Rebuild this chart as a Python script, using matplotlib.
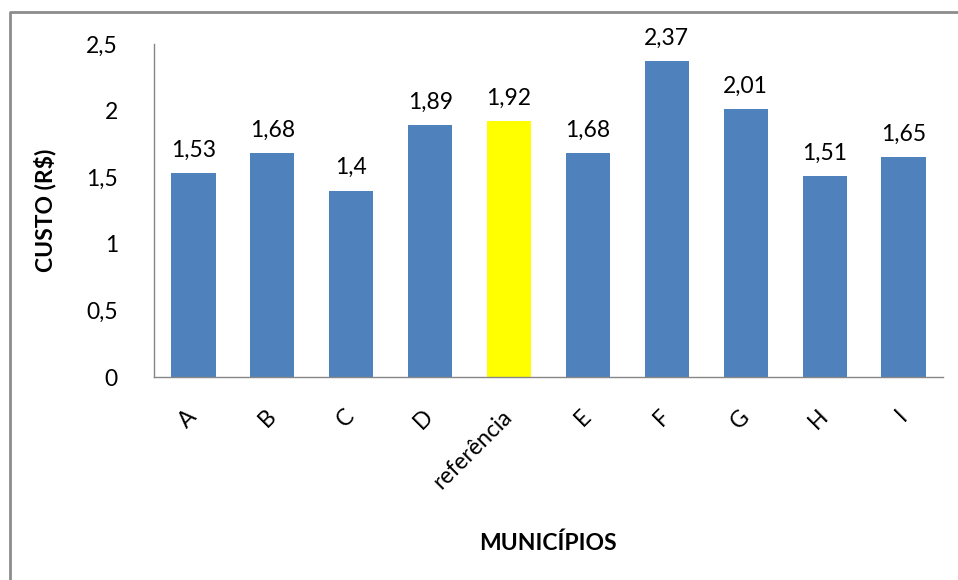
import matplotlib
matplotlib.use("Agg")
import matplotlib.pyplot as plt
from matplotlib.lines import Line2D

categories = ["A", "B", "C", "D", "referência", "E", "F", "G", "H", "I"]
values = [1.53, 1.68, 1.4, 1.89, 1.92, 1.68, 2.37, 2.01, 1.51, 1.65]
yticks = [0, 0.5, 1, 1.5, 2, 2.5]
ytick_labels = ["0", "0,5", "1", "1,5", "2", "2,5"]
highlight = "referência"

plt.rcParams['font.family'] = ['Lato', 'DejaVu Sans']
FS = 16.5

fig = plt.figure(figsize=(9.58, 5.8), dpi=100)
ax = fig.add_axes([154/958, 203/580, 789/958, 333/580])

colors = ["#FFFF00" if c == highlight else "#4F81BD" for c in categories]
x = list(range(len(categories)))
ax.bar(x, values, width=0.56, color=colors)
ax.set_xlim(-0.5, len(categories) - 0.5)
ax.set_ylim(0, 2.5)
ax.set_yticks(yticks)
ax.set_yticklabels(ytick_labels, fontsize=FS)
ax.set_xticks(x)
ax.set_xticklabels(categories, fontsize=FS, rotation=45, ha='right', va='center', rotation_mode='anchor')
ax.tick_params(axis='x', length=0, pad=26)
ax.tick_params(axis='y', length=0, pad=26)

for s in ['top', 'right']:
    ax.spines[s].set_visible(False)
for s in ['left', 'bottom']:
    ax.spines[s].set_color('#868686')
    ax.spines[s].set_linewidth(1.0)

for xi, v in zip(x, values):
    ax.annotate(f"{v:g}".replace(".", ","), (xi, v), xytext=(0, 9), textcoords='offset points',
                ha='center', va='bottom', fontsize=FS)

fig.text(548/958, 1 - 543/580, "MUNICÍPIOS", ha='center', va='center', fontsize=FS, fontweight='bold')
fig.text(45/958, 1 - 210/580, "CUSTO (R$)", ha='center', va='center', fontsize=FS, fontweight='bold', rotation=90)

# outer chart frame
fig.add_artist(Line2D([10/958, 10/958, 1.0], [0.0, 1 - 12/580, 1 - 12/580], transform=fig.transFigure,
                      color='#8c8c8c', linewidth=2))

fig.savefig("out.png", dpi=100, facecolor='white')
